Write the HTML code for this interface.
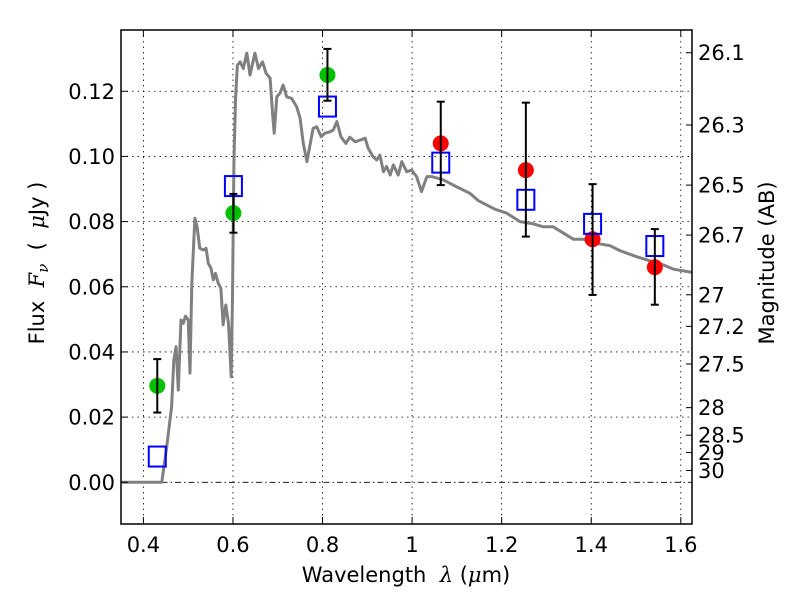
<!DOCTYPE html>
<html><head><meta charset="utf-8"><style>
body{margin:0;background:#fff}
svg text{font-family:"DejaVu Sans","Liberation Sans",sans-serif;fill:#000}
</style></head><body>
<svg id="chart" width="800" height="600" xmlns="http://www.w3.org/2000/svg">
<g id="grid"></g>
<g id="spec"></g>
<g id="marks"></g>
<rect x="121" y="30" width="571" height="494" fill="none" stroke="#000" stroke-width="1.5"/>
<g id="axes"></g>
<text x="406" y="582" font-size="21" text-anchor="middle" xml:space="preserve">Wavelength  <tspan font-family="DejaVu Serif" font-style="italic">λ</tspan> (<tspan font-family="DejaVu Serif" font-style="italic">μ</tspan>m)</text>
<text transform="translate(44,263) rotate(-90)" font-size="21" text-anchor="middle" xml:space="preserve">Flux  <tspan font-family="DejaVu Serif" font-style="italic">F</tspan><tspan font-family="DejaVu Serif" font-style="italic" font-size="15" dy="4">ν</tspan><tspan dy="-4">  (  </tspan><tspan font-family="DejaVu Serif" font-style="italic">μ</tspan>Jy )</text>
<text transform="translate(774,263) rotate(-90)" font-size="21" text-anchor="middle">Magnitude (AB)</text>
</svg>
<script>
const specX=[0.352,0.441,0.452,0.463,0.468,0.473,0.478,0.484,0.489,0.494,0.500,0.504,0.508,0.515,0.520,0.526,0.534,0.540,0.545,0.551,0.556,0.561,0.567,0.573,0.578,0.584,0.590,0.596,0.599,0.602,0.606,0.610,0.616,0.623,0.631,0.638,0.649,0.657,0.666,0.674,0.683,0.689,0.692,0.698,0.705,0.712,0.720,0.731,0.742,0.750,0.757,0.765,0.770,0.779,0.787,0.797,0.805,0.817,0.824,0.832,0.841,0.852,0.861,0.873,0.884,0.895,0.902,0.913,0.921,0.928,0.936,0.943,0.951,0.958,0.969,0.977,0.988,0.999,1.010,1.021,1.033,1.044,1.070,1.092,1.129,1.148,1.185,1.211,1.241,1.271,1.293,1.315,1.360,1.382,1.412,1.442,1.464,1.502,1.561,1.584,1.625];
const specY=[0,0,0.0109,0.0232,0.0375,0.0416,0.0283,0.0498,0.0488,0.051,0.0498,0.0335,0.061,0.081,0.0784,0.0718,0.0713,0.0718,0.0672,0.0657,0.0621,0.0641,0.0611,0.0595,0.0483,0.0544,0.0488,0.0324,0.057,0.0979,0.1183,0.128,0.129,0.127,0.1317,0.125,0.1317,0.127,0.129,0.1255,0.124,0.1122,0.1071,0.1183,0.1194,0.1219,0.1183,0.1178,0.1153,0.1117,0.104,0.0984,0.102,0.1086,0.1091,0.1061,0.1071,0.1076,0.1081,0.1107,0.1061,0.104,0.1059,0.1045,0.105,0.1056,0.1025,0.0999,0.0989,0.1004,0.0953,0.0969,0.0943,0.0974,0.0943,0.0984,0.0953,0.0958,0.0938,0.0892,0.0938,0.0938,0.0928,0.0912,0.0887,0.0864,0.0838,0.0826,0.080,0.0793,0.0784,0.0784,0.0746,0.0746,0.0733,0.0726,0.0711,0.0692,0.0667,0.0654,0.0644];
const obsX=[0.431,0.601,0.811,1.064,1.254,1.403,1.542];
const obsY=[0.0296,0.0826,0.125,0.104,0.0958,0.0746,0.066];
const obsLo=[0.0214,0.0766,0.1171,0.0912,0.0754,0.0575,0.0545];
const obsHi=[0.0378,0.0885,0.133,0.1168,0.1165,0.0915,0.0777];
const obsColor=['#00c000','#00c000','#00c000','#ff0000','#ff0000','#ff0000','#ff0000'];
const modelY=[0.0079,0.0909,0.1153,0.0981,0.0867,0.0793,0.0725];
const xTicks=[0.4,0.6,0.8,1.0,1.2,1.4,1.6];
const xTickLabels=['0.4','0.6','0.8','1','1.2','1.4','1.6'];
const yTicks=[0,0.02,0.04,0.06,0.08,0.10,0.12];
const yTickLabels=['0.00','0.02','0.04','0.06','0.08','0.10','0.12'];
const magTicks=[26.1,26.3,26.5,26.7,27,27.2,27.5,28,28.5,29,30];
const magLabels=['26.1','26.3','26.5','26.7','27','27.2','27.5','28','28.5','29','30'];

const NS='http://www.w3.org/2000/svg';
const X0=121,X1=692,Y0=30,Y1=524,xmin=0.35,xmax=1.625,ymin=-0.0128,ymax=0.1388;
function sx(v){return X0+(v-xmin)/(xmax-xmin)*(X1-X0);}
function sy(v){return Y1-(v-ymin)/(ymax-ymin)*(Y1-Y0);}
function mk(tag,attrs,parent){const e=document.createElementNS(NS,tag);for(const k in attrs)e.setAttribute(k,attrs[k]);parent.appendChild(e);return e;}
const grid=document.getElementById('grid'),axes=document.getElementById('axes'),spec=document.getElementById('spec'),marks=document.getElementById('marks');
xTicks.forEach((t,i)=>{const x=sx(t);
 const g=mk('line',{x1:x,x2:x,y1:Y0,y2:Y1,stroke:'#000','stroke-width':0.8,'stroke-dasharray':'1.5,4'},grid);
 
 mk('line',{x1:x,x2:x,y1:Y1,y2:Y1-7,stroke:'#000','stroke-width':1},axes);
 mk('line',{x1:x,x2:x,y1:Y0,y2:Y0+7,stroke:'#000','stroke-width':1},axes);
 const tx=mk('text',{x:x,y:Y1+28,'font-size':21,'text-anchor':'middle'},axes);tx.textContent=xTickLabels[i];
 });
yTicks.forEach((t,i)=>{const y=sy(t);
 const g=mk('line',{x1:X0,x2:X1,y1:y,y2:y,stroke:'#000','stroke-width':0.8,'stroke-dasharray':t===0?'6,3,1.5,3':'1.5,4'},grid);
 
 mk('line',{x1:X0,x2:X0+7,y1:y,y2:y,stroke:'#000','stroke-width':1},axes);
 const tx=mk('text',{x:X0-6,y:y+7.5,'font-size':21,'text-anchor':'end'},axes);tx.textContent=yTickLabels[i];
 });
magTicks.forEach((m,i)=>{const y=sy(Math.pow(10,(23.9-m)/2.5));
 mk('line',{x1:X1-6,x2:X1,y1:y,y2:y,stroke:'#000','stroke-width':1},axes);
 const tx=mk('text',{x:X1+6,y:y+7.5,'font-size':21},axes);tx.textContent=magLabels[i];
 });
const p=mk('polyline',{points:specX.map((x,i)=>sx(x).toFixed(1)+','+sy(specY[i]).toFixed(1)).join(' '),fill:'none',stroke:'#808080','stroke-width':3,'stroke-linejoin':'round'},spec);

obsX.forEach((v,i)=>{const x=sx(v);
 const c=mk('circle',{cx:x,cy:sy(obsY[i]),r:8,fill:obsColor[i]},marks);
 
 const s=mk('rect',{x:x-8.5,y:sy(modelY[i])-10,width:17,height:20,fill:'none',stroke:'#0000ff','stroke-width':2},marks);
 
 const eb=mk('g',{},marks);
 
 const a=sy(obsHi[i]),b=sy(obsLo[i]);
 mk('line',{x1:x,x2:x,y1:a,y2:b,stroke:'#000','stroke-width':2},eb);
 mk('line',{x1:x-4,x2:x+4,y1:a,y2:a,stroke:'#000','stroke-width':2},eb);
 mk('line',{x1:x-4,x2:x+4,y1:b,y2:b,stroke:'#000','stroke-width':2},eb);});
</script>
</body></html>
